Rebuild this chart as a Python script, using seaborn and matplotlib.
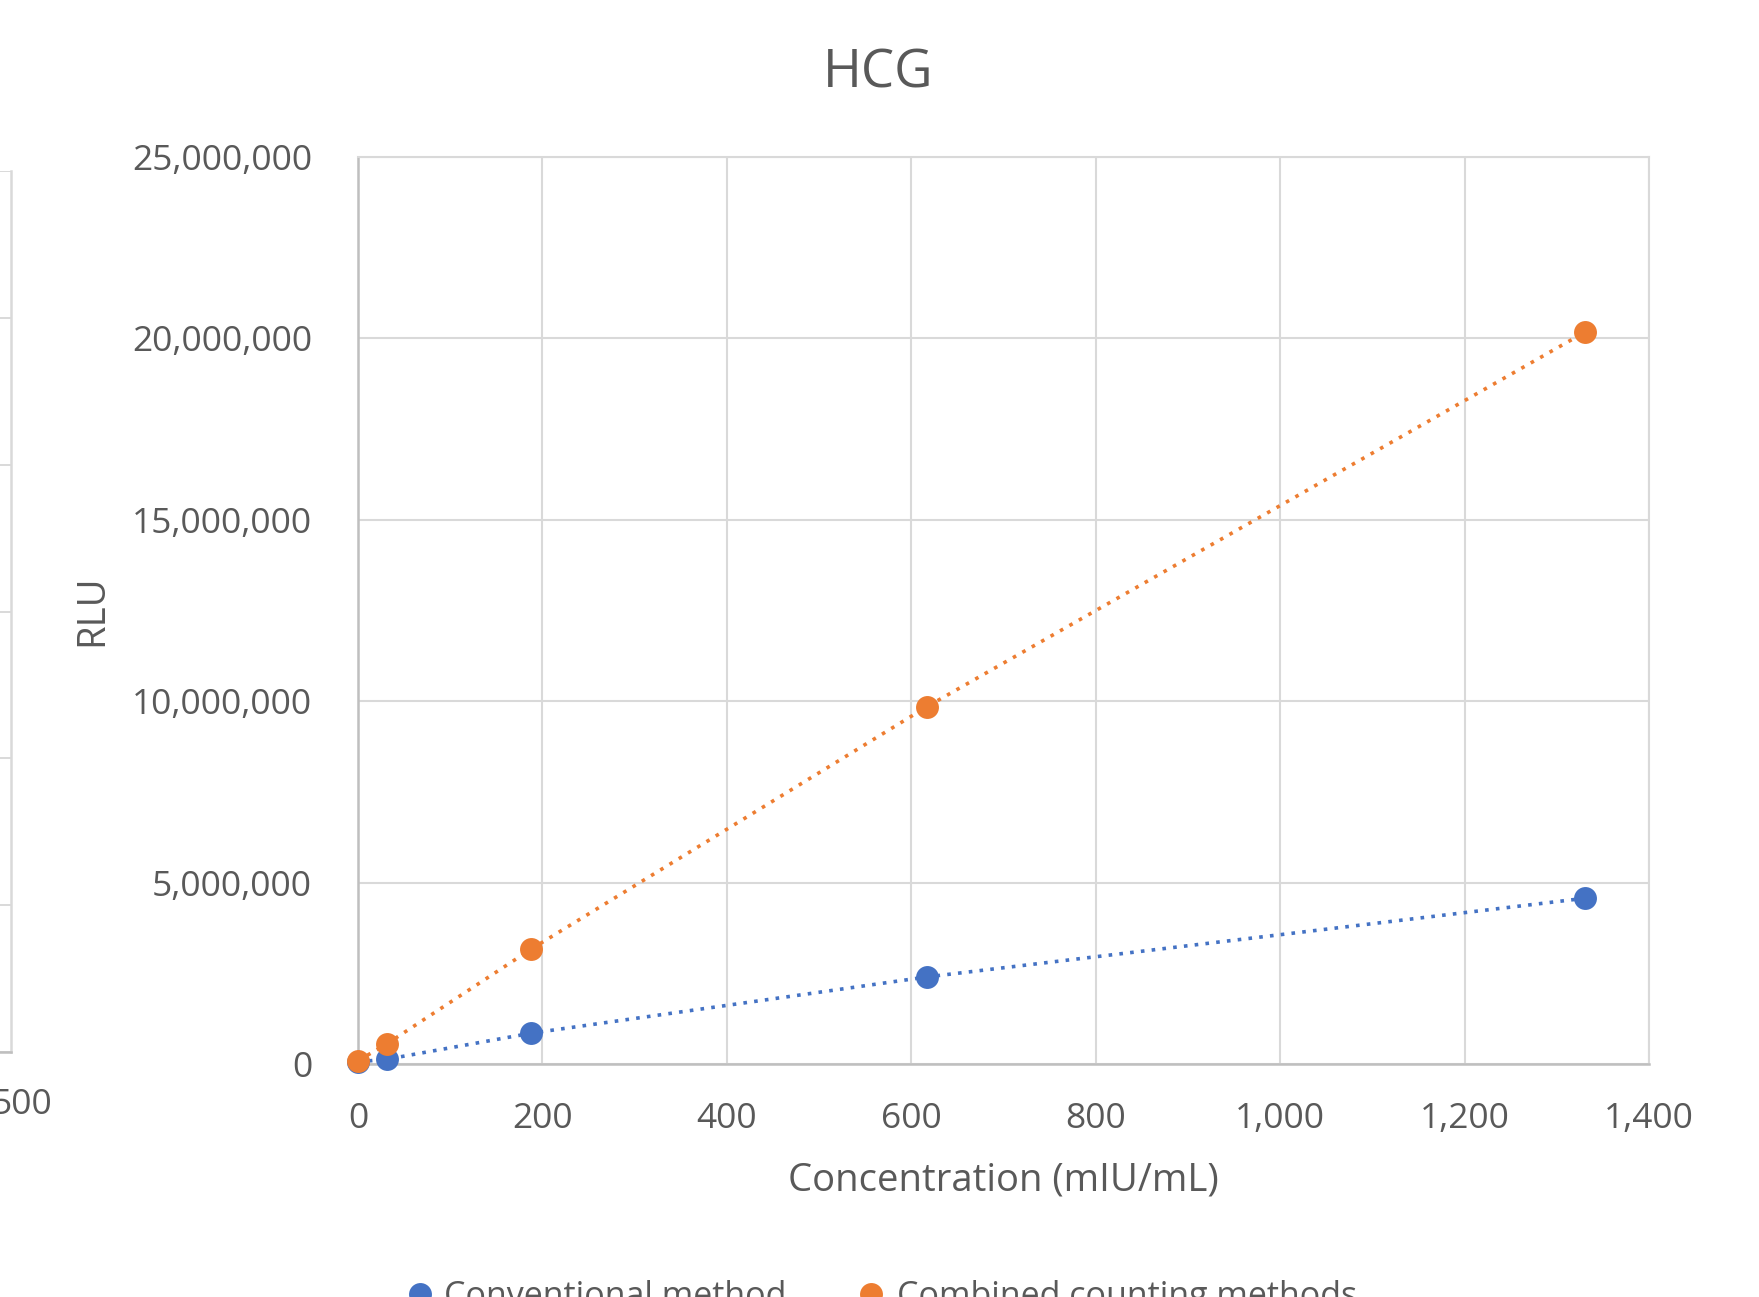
import matplotlib
matplotlib.use("Agg")
import matplotlib.pyplot as plt
from matplotlib.lines import Line2D
from matplotlib.ticker import FuncFormatter
import seaborn as sns
import pandas as pd

# HCG calibration data: concentration (mIU/mL) vs. relative light units
concentration = [0, 31, 188, 617, 1331]
conventional_rlu = [60_000, 130_000, 850_000, 2_400_000, 4_570_000]
combined_rlu = [90_000, 550_000, 3_170_000, 9_850_000, 20_180_000]
series_names = ["Conventional method", "Combined counting methods"]

x_ticks = [0, 200, 400, 600, 800, 1000, 1200, 1400]
y_ticks = [0, 5_000_000, 10_000_000, 15_000_000, 20_000_000, 25_000_000]

BLUE = "#4472C4"
ORANGE = "#ED7D31"
TEXT = "#595959"
GRID = "#D9D9D9"
AXIS = "#BFBFBF"

sns.set_theme(style="white")
plt.rcParams["font.family"] = ["Open Sans", "DejaVu Sans"]

W, H = 1759, 1297
fig = plt.figure(figsize=(W / 100, H / 100), dpi=100)
fig.patch.set_facecolor("white")

# neighbouring chart panel, only its right edge is in frame
axl = fig.add_axes([(10.5 - 300) / W, 1 - 1052 / H, 300 / W, (1052 - 171) / H])
axl.set_xlim(0, 1)
axl.set_ylim(0, 6)
axl.set_yticks(range(7))
axl.set_xticks([])
axl.tick_params(left=False, labelleft=False)
axl.grid(True, axis="y", color=GRID, lw=1.4)
for side in ["top", "left"]:
    axl.spines[side].set_visible(False)
axl.spines["right"].set_color(GRID)
axl.spines["right"].set_linewidth(1.8)
axl.spines["bottom"].set_color(AXIS)
axl.spines["bottom"].set_linewidth(1.8)
fig.text(52 / W, 1 - 1114 / H, "500", ha="right", va="baseline",
         fontsize=25.5, color=TEXT)

# main chart
ax = fig.add_axes([358 / W, 1 - 1064 / H, 1291 / W, 907 / H])
df = pd.DataFrame({
    "conc": concentration * 2,
    "rlu": conventional_rlu + combined_rlu,
    "method": [series_names[0]] * len(concentration) + [series_names[1]] * len(concentration),
})
for name, color in zip(series_names, [BLUE, ORANGE]):
    sub = df[df["method"] == name]
    sns.lineplot(data=sub, x="conc", y="rlu", ax=ax, color=color,
                 linestyle=(0, (1, 2)), linewidth=2.6, marker="o",
                 markersize=16.5, markeredgewidth=0, sort=False,
                 errorbar=None, legend=False, zorder=3, clip_on=False)

ax.set_xlim(0, 1400)
ax.set_ylim(0, 25_000_000)
ax.set_xticks(x_ticks)
ax.set_yticks(y_ticks)
ax.xaxis.set_major_formatter(FuncFormatter(lambda v, p: f"{v:,.0f}"))
ax.yaxis.set_major_formatter(FuncFormatter(lambda v, p: f"{v:,.0f}"))
ax.tick_params(axis="both", length=0, labelsize=25.5, labelcolor=TEXT)
ax.tick_params(axis="x", pad=27)
ax.tick_params(axis="y", pad=33)
ax.grid(True, color=GRID, lw=1.5)
ax.set_axisbelow(True)
for side in ["left", "bottom"]:
    ax.spines[side].set_color(AXIS)
    ax.spines[side].set_linewidth(1.8)
for side in ["top", "right"]:
    ax.spines[side].set_color(GRID)
    ax.spines[side].set_linewidth(1.5)

ax.set_xlabel("Concentration (mIU/mL)", fontsize=27.5, color=TEXT)
ax.set_ylabel("RLU", fontsize=27.5, color=TEXT)
ax.xaxis.set_label_coords(0.5, (1064 - 1180) / 907)
ax.xaxis.label.set_va("center")
ax.yaxis.set_label_coords((92 - 358) / 1291, 0.5)
ax.yaxis.label.set_va("center")

fig.text(878 / W, 1 - 88 / H, "HCG", ha="center", va="baseline",
         fontsize=38, color=TEXT)

# legend along the bottom edge
legend_items = [(420, 444, series_names[0], BLUE), (871, 897, series_names[1], ORANGE)]
for mx, tx, label, color in legend_items:
    fig.add_artist(Line2D([mx / W], [1 - 1294 / H], marker="o", markersize=16.5,
                          markeredgewidth=0, color=color, linestyle="none",
                          transform=fig.transFigure))
    fig.text(tx / W, 1 - 1306 / H, label, ha="left", va="baseline",
             fontsize=24.5, color=TEXT)

fig.savefig("out.png", dpi=100, facecolor="white")
